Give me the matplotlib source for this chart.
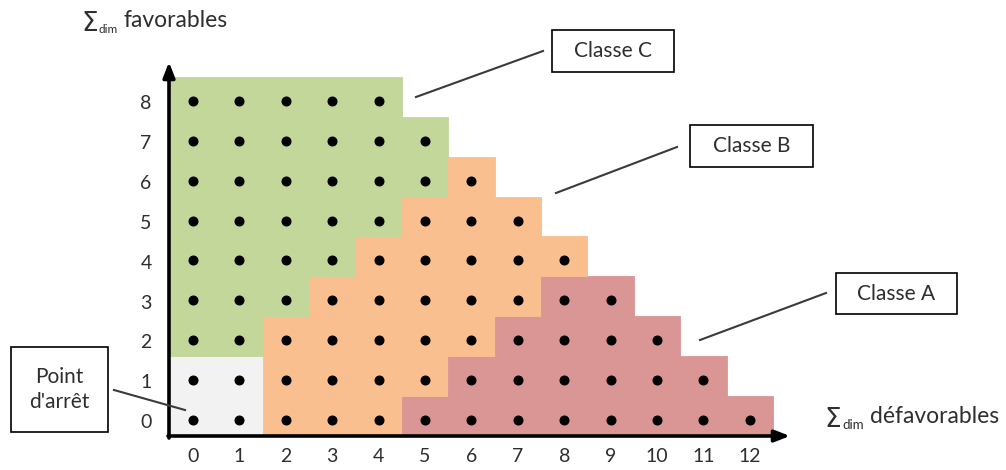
import matplotlib
matplotlib.use("Agg")
import matplotlib.pyplot as plt
from matplotlib.patches import Rectangle

# ---- data ----
x_ticks = list(range(13))          # ∑dim défavorables
y_ticks = list(range(9))           # ∑dim favorables
# class of every cell, row by row (index = y), character index = x
# P = Point d'arrêt, B = Classe B, C = Classe C, A = Classe A
class_rows = [
    "PPBBBAAAAAAAA",   # y = 0
    "PPBBBBAAAAAA",    # y = 1
    "CCBBBBBAAAA",     # y = 2
    "CCCBBBBBAA",      # y = 3
    "CCCCBBBBB",       # y = 4
    "CCCCCBBB",        # y = 5
    "CCCCCCB",         # y = 6
    "CCCCCC",          # y = 7
    "CCCCC",           # y = 8
]
class_colors = {"P": "#F2F2F2", "B": "#FABF8F", "C": "#C4D79B", "A": "#DA9694"}
callouts = ["Classe C", "Classe B", "Classe A", "Point\nd'arrêt"]

FONT = ["Lato", "DejaVu Sans"]
TXT = "#2e2e2e"

W, H = 1006, 470
fig = plt.figure(figsize=(W / 100, H / 100), dpi=100)
ax = fig.add_axes([0, 0, 1, 1])
X0, SX = 193.0, 46.4     # pixel of x=0, pixels per unit
Y0, SY = 420.0, 39.9     # pixel (from top) of y=0, pixels per unit
ax.set_xlim(-X0 / SX, (W - X0) / SX)
ax.set_ylim((Y0 - H) / SY, Y0 / SY)
ax.axis("off")


def P(px, py):
    """pixel position (from top-left) -> data coordinates"""
    return ((px - X0) / SX, (Y0 - py) / SY)


# cells
for y, row in enumerate(class_rows):
    for x, c in enumerate(row):
        col = class_colors[c]
        ax.add_patch(Rectangle((x - 0.5, y - 0.4), 1, 1, facecolor=col,
                               edgecolor=col, lw=0.6, zorder=1))
# dots
for y, row in enumerate(class_rows):
    xs = list(range(len(row)))
    ax.plot(xs, [y] * len(xs), "o", color="black", ms=6.2, zorder=3)

# axes arrows
ax.annotate("", xy=P(169, 62), xytext=P(169, 438),
            arrowprops=dict(arrowstyle="-|>,head_length=0.9,head_width=0.35",
                            color="black", lw=2.6, shrinkA=0, shrinkB=0), zorder=4)
ax.annotate("", xy=P(790, 436), xytext=P(168, 436),
            arrowprops=dict(arrowstyle="-|>,head_length=0.9,head_width=0.35",
                            color="black", lw=2.6, shrinkA=0, shrinkB=0), zorder=4)

# tick labels
for x in x_ticks:
    ax.text(x, P(0, 457)[1], str(x), ha="center", va="center",
            fontsize=14, color=TXT, family=FONT)
for y in y_ticks:
    ax.text(P(146, 0)[0], y - 0.07, str(y), ha="center", va="center",
            fontsize=14, color=TXT, family=FONT)


# axis titles: ∑ with 'dim' subscript
def sum_label(px, pbase, rest, dim_size, dim_dx, rest_dx):
    ax.text(*P(px - 1, pbase + 4), "Σ", ha="left", va="baseline", fontsize=19,
            color=TXT, family=["DejaVu Sans"])
    ax.text(*P(px + dim_dx, pbase + 6), "dim", ha="left", va="baseline",
            fontsize=dim_size, color=TXT, family=FONT)
    ax.text(*P(px + rest_dx, pbase), rest, ha="left", va="baseline",
            fontsize=16.5, color=TXT, family=FONT)


sum_label(82, 27, "favorables", 8.5, 17, 42)
sum_label(825, 423, "défavorables", 9.5, 17, 45)

# callout boxes (left, top, right, bottom) and leader lines
boxes = [(552, 30, 674, 72), (690, 125, 813, 167), (836, 273, 957, 314), (11, 347, 108, 432)]
leaders = [((416, 97), (543, 51)), ((556, 193), (677, 147)),
           ((700, 340), (826, 293)), ((114, 390), (185, 410))]
for (l, t, r, b), label, (a, c) in zip(boxes, callouts, leaders):
    xa, ya = P(l, b)
    xb, yb = P(r, t)
    ax.add_patch(Rectangle((xa, ya), xb - xa, yb - ya, facecolor="white",
                           edgecolor="black", lw=1.2, zorder=5))
    ax.text((xa + xb) / 2, (ya + yb) / 2, label, ha="center", va="center",
            fontsize=15, color=TXT, family=FONT, linespacing=1.3, zorder=6)
    (x1, y1), (x2, y2) = P(*a), P(*c)
    ax.plot([x1, x2], [y1, y2], color="#3a3a3a", lw=1.5, zorder=5)

fig.savefig("out.png", dpi=100)
